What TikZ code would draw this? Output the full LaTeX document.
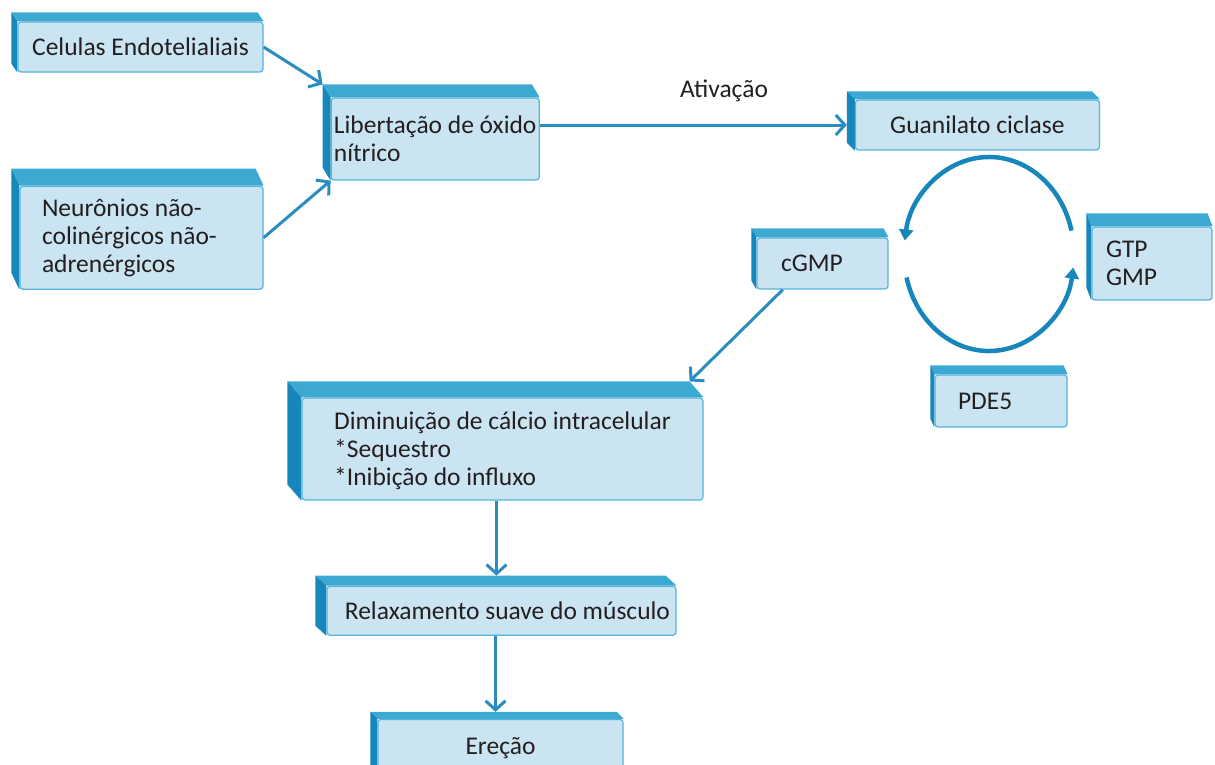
\documentclass[tikz,border=0pt]{standalone}
\usepackage{fontspec}
\setmainfont{Carlito}
\usetikzlibrary{positioning,calc,arrows.meta,backgrounds}
\definecolor{faceC}{HTML}{CBE4F2}
\definecolor{rimC}{HTML}{55B2DC}
\definecolor{topC}{HTML}{3CA9D3}
\definecolor{sideC}{HTML}{1787BB}
\definecolor{lineC}{HTML}{2B8CC2}
\definecolor{inkC}{HTML}{231F20}
% 3D rim of a box: name, depth left, depth up
\newcommand{\bevel}[3]{%
  \coordinate (#1-nw) at ($(#1.north west)+(-#2,-#3)$);
  \coordinate (#1-ne) at ($(#1.north east)+(-#2,-#3)$);
  \coordinate (#1-sw) at ($(#1.south west)+(-#2,-#3)$);
  \fill[topC] (#1.north west) -- (#1-nw) -- (#1-ne) -- (#1.north east) -- cycle;
  \fill[sideC] (#1.north west) -- (#1-nw) -- (#1-sw) -- (#1.south west) -- cycle;
}

\begin{document}
\begin{tikzpicture}[x=1pt,y=-1pt]
\tikzstyle{box}=[draw=rimC, fill=faceC, line width=1.2pt, rounded corners=3pt, align=left, text=inkC, font=\fontsize{25.5}{28}\selectfont, inner sep=0pt]
\tikzstyle{link}=[lineC, line width=3pt, -{Straight Barb[length=9pt,width=20pt]}]
\tikzstyle{loopline}=[sideC, line width=4.5pt, -{Triangle[length=11pt,width=14pt]}]
\useasboundingbox (0,0) rectangle (1215,764);

\node[box, minimum width=245pt, minimum height=50pt] (celulas) at (140.5,47) {Celulas Endotelialiais};
\node[box, minimum width=243pt, minimum height=103pt, inner xsep=22pt, text width=199pt, align=flush left, below=113pt of celulas, xshift=1pt] (neuronios) {Neurônios não-\\colinérgicos não-\\adrenérgicos};
\node[box, minimum width=208pt, minimum height=82pt, right=67pt of celulas, yshift=-92pt] (libertacao) {Libertação de óxido\\nítrico};
\node[box, minimum width=244pt, minimum height=50pt, right=315pt of libertacao, yshift=14pt] (guanilato) {Guanilato ciclase};
\node[box, minimum width=131pt, minimum height=51pt, inner xsep=24pt, text width=83pt, align=flush left] (cgmp) at (822.5,263.5) {cGMP};
\node[box, minimum width=120pt, minimum height=73pt, inner xsep=14pt, text width=92pt, align=flush left] (gtp) at (1152,263.5) {GTP\\GMP};
\node[box, minimum width=132pt, minimum height=52pt, inner xsep=23pt, text width=86pt, align=flush left] (pde) at (1001,401) {PDE5};
\node[box, minimum width=401pt, minimum height=102pt, text depth=-4pt] (diminuicao) at (502.5,449) {Diminuição de cálcio intracelular\\*Sequestro\\*Inibição do influxo};
\node[box, minimum width=349pt, minimum height=49pt, inner xsep=6pt, text width=337pt, align=flush right, below=85pt of diminuicao, xshift=-1pt] (relaxamento) {Relaxamento suave do músculo};
\node[box, minimum width=245pt, minimum height=58pt, below=83pt of relaxamento, xshift=-1pt] (erecao) {Ereção};

\begin{pgfonlayer}{background}
\bevel{celulas}{6}{9}
\bevel{neuronios}{8}{17}
\bevel{libertacao}{8}{13}
\bevel{guanilato}{8}{8}
\bevel{cgmp}{5}{9}
\bevel{gtp}{5}{13}
\bevel{pde}{4}{9}
\bevel{diminuicao}{14}{16}
\bevel{relaxamento}{11}{10}
\bevel{erecao}{7}{7}
\end{pgfonlayer}

\draw[link] (celulas.east) -- (libertacao-nw);
\draw[link] (neuronios.east) -- (libertacao.south west);
\draw[link] (libertacao.east |- guanilato.west) -- node[pos=0.6, above=18pt, text=inkC, font=\fontsize{25.5}{28}\selectfont]{Ativação} ([xshift=-8pt]guanilato.west);
\draw[link] ($(cgmp.south west)!0.2!(cgmp.south east)$) -- (diminuicao-ne);
\draw[link] ([xshift=-6pt]diminuicao.south) -- ([xshift=-6pt]diminuicao.south |- relaxamento-nw);
\draw[link] ([xshift=-6pt]relaxamento.south) -- ([xshift=-6pt]relaxamento.south |- erecao-nw);

% GTP / cGMP cycle
\coordinate (hub) at (989,254);
\draw[loopline] ([shift={(-14:85 and 97)}]hub) arc[start angle=-14, end angle=-172, x radius=85, y radius=97];
\draw[loopline] ([shift={(166:85 and 97)}]hub) arc[start angle=166, end angle=8, x radius=85, y radius=97];
\end{tikzpicture}
\end{document}
